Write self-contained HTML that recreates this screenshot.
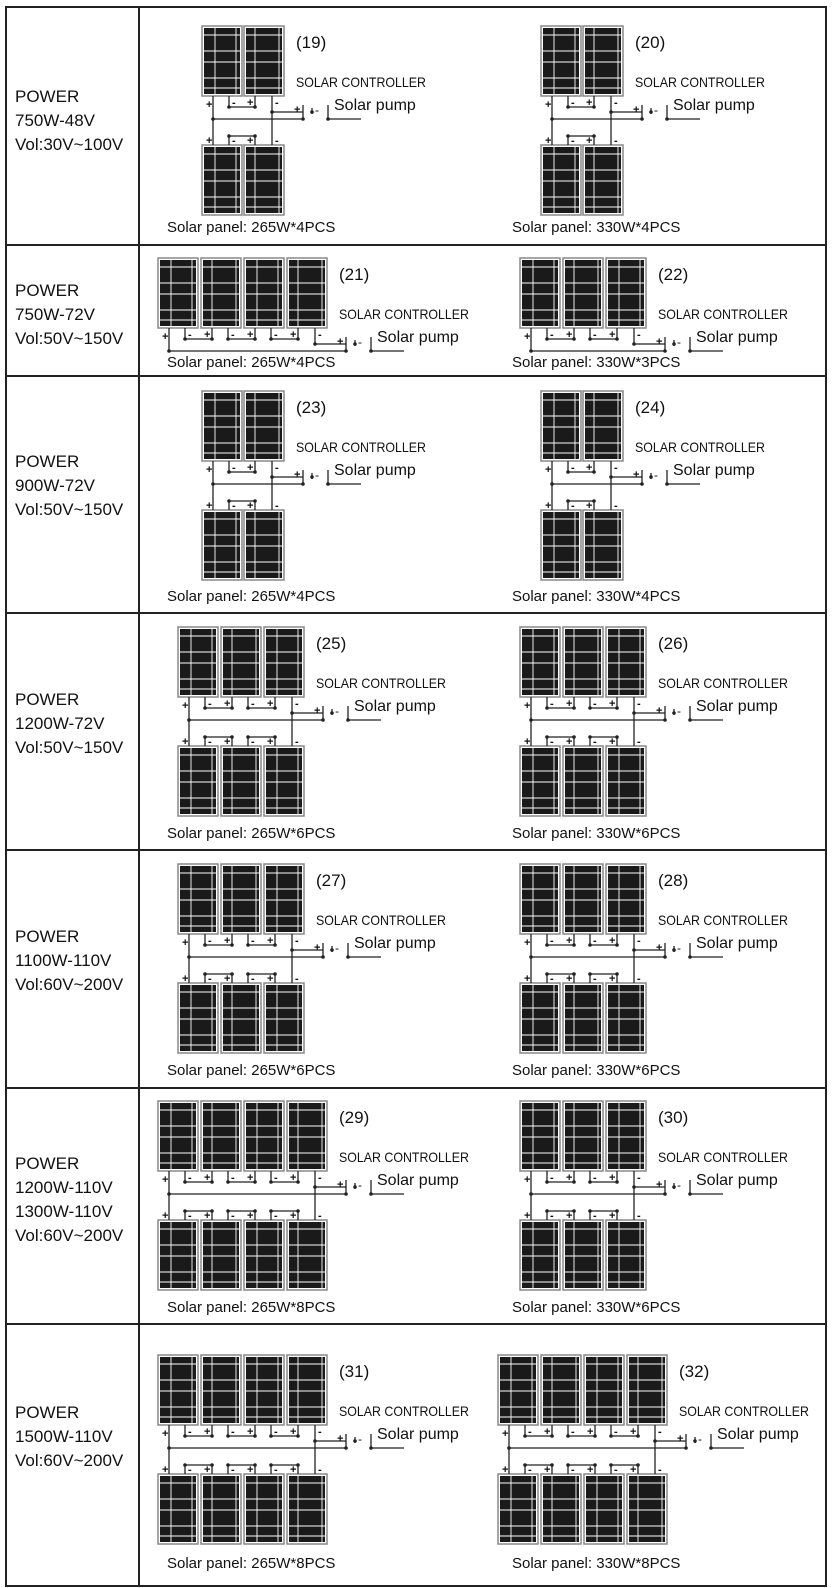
<!DOCTYPE html>
<html><head><meta charset="utf-8"><style>
html,body{margin:0;padding:0;background:#fff;}
svg{display:block;}
text{font-family:"Liberation Sans",sans-serif;fill:#111;}
</style></head><body>
<svg id="s" xmlns="http://www.w3.org/2000/svg" width="834" height="1588" viewBox="0 0 834 1588">
<rect x="0" y="0" width="834" height="1588" fill="#fff"/>
<g stroke="#222" stroke-width="2" fill="none">
<rect x="6" y="7" width="820" height="1579"/>
<line x1="139" y1="7" x2="139" y2="1586"/>
<line x1="6" y1="245" x2="826" y2="245"/>
<line x1="6" y1="376" x2="826" y2="376"/>
<line x1="6" y1="613" x2="826" y2="613"/>
<line x1="6" y1="850" x2="826" y2="850"/>
<line x1="6" y1="1088" x2="826" y2="1088"/>
<line x1="6" y1="1324" x2="826" y2="1324"/>
</g>
<g font-size="17">
<text x="15" y="102">POWER</text><text x="15" y="126">750W-48V</text><text x="15" y="150">Vol:30V~100V</text>
<text x="15" y="296">POWER</text><text x="15" y="320">750W-72V</text><text x="15" y="344">Vol:50V~150V</text>
<text x="15" y="467">POWER</text><text x="15" y="491">900W-72V</text><text x="15" y="515">Vol:50V~150V</text>
<text x="15" y="705">POWER</text><text x="15" y="729">1200W-72V</text><text x="15" y="753">Vol:50V~150V</text>
<text x="15" y="942">POWER</text><text x="15" y="966">1100W-110V</text><text x="15" y="990">Vol:60V~200V</text>
<text x="15" y="1169">POWER</text><text x="15" y="1193">1200W-110V</text><text x="15" y="1217">1300W-110V</text><text x="15" y="1241">Vol:60V~200V</text>
<text x="15" y="1418">POWER</text><text x="15" y="1442">1500W-110V</text><text x="15" y="1466">Vol:60V~200V</text>
</g>
<g id="d"></g>
</svg>
<script>
var g=document.getElementById("d"),h="";
function L(a,b,c,d,w){h+='<line x1="'+a+'" y1="'+b+'" x2="'+c+'" y2="'+d+'" stroke="#222" stroke-width="'+(w||1.3)+'"/>';}
function dot(x,y){h+='<circle cx="'+x+'" cy="'+y+'" r="1.8" fill="#222"/>';}
function T(x,y,s,fs,extra){h+='<text x="'+x+'" y="'+y+'" font-size="'+fs+'" '+(extra||'')+'>'+s+'</text>';}
function panel(x,y,m){
 h+='<rect x="'+x+'" y="'+y+'" width="40" height="70" fill="#fff" stroke="#888" stroke-width="1.5"/>';
 h+='<rect x="'+(x+2)+'" y="'+(y+2)+'" width="36" height="66" fill="#1a1a1a"/>';
 var vs=m?[11,35]:[13,34];
 [9,25,36,52,62].forEach(function(f){h+='<line x1="'+(x+2)+'" y1="'+(y+f)+'" x2="'+(x+38)+'" y2="'+(y+f)+'" stroke="#fff" stroke-width="0.9"/>';});
 vs.forEach(function(v){h+='<line x1="'+(x+v)+'" y1="'+(y+2)+'" x2="'+(x+v)+'" y2="'+(y+68)+'" stroke="#fff" stroke-width="0.9"/>';});
}
function sign(x,y,s){T(x-3,y+4,s,11,'font-weight="bold"');}
function diag(x0,t,n,two,num,cap,cx,cy){
 var sp=n==2?42:43,i,xs=[];for(i=0;i<n;i++)xs.push(x0+i*sp);
 var lr=xs[n-1]+40,b=t+119;
 xs.forEach(function(x,i){panel(x,t,i%2);});
 if(two)xs.forEach(function(x,i){panel(x,b,i%2);});
 sign(xs[0]+7,t+78,"+");
 L(xs[0]+11,t+70,xs[0]+11,two?b:t+93);
 for(i=0;i<n-1;i++){
  var a=xs[i]+27,c=xs[i+1]+11;
  L(a,t+70,a,t+81);L(c,t+70,c,t+81);L(a,t+81,c,t+81);dot(a,t+81);dot(c,t+81);
  sign(a+6,t+76,"-");sign(c-5,t+76,"+");
  if(two){L(a,b,a,b-9);L(c,b,c,b-9);L(a,b-9,c,b-9);dot(a,b-9);dot(c,b-9);sign(a+6,b-5,"-");sign(c-5,b-5,"+");}
 }
 var lx=xs[n-1]+28;
 sign(lx+6,t+76,"-");
 L(lx,t+70,lx,two?b:t+86);
 if(two){sign(xs[0]+7,b-5,"+");sign(lx+6,b-5,"-");}
 var k=lr+19;
 L(lx,t+86,k,t+86);dot(lx,t+86);
 L(xs[0]+11,t+93,k,t+93);dot(xs[0]+11,t+93);dot(k,t+93);
 L(k,t+79,k,t+93);sign(k-6,t+83,"+");
 L(k+9,t+82,k+9,t+88);dot(k+9,t+86);T(k+12,t+88,"-",12);
 L(lr+44,t+79,lr+44,t+93);L(lr+44,t+93,lr+77,t+93);dot(lr+44,t+93);
 T(lr+12,t+22,"("+num+")",17);
 T(lr+12,t+61,"SOLAR CONTROLLER",14,'textLength="130" lengthAdjust="spacingAndGlyphs"');
 T(lr+50,t+84,"Solar pump",16);
 T(cx,cy,"Solar panel: "+cap,15);
}
diag(202,26,2,1,19,"265W*4PCS",167,232);
diag(541,26,2,1,20,"330W*4PCS",512,232);
diag(158,258,4,0,21,"265W*4PCS",167,367);
diag(520,258,3,0,22,"330W*3PCS",512,367);
diag(202,391,2,1,23,"265W*4PCS",167,601);
diag(541,391,2,1,24,"330W*4PCS",512,601);
diag(178,627,3,1,25,"265W*6PCS",167,838);
diag(520,627,3,1,26,"330W*6PCS",512,838);
diag(178,864,3,1,27,"265W*6PCS",167,1075);
diag(520,864,3,1,28,"330W*6PCS",512,1075);
diag(158,1101,4,1,29,"265W*8PCS",167,1312);
diag(520,1101,3,1,30,"330W*6PCS",512,1312);
diag(158,1355,4,1,31,"265W*8PCS",167,1568);
diag(498,1355,4,1,32,"330W*8PCS",512,1568);
g.innerHTML=h;
</script>
</body></html>
